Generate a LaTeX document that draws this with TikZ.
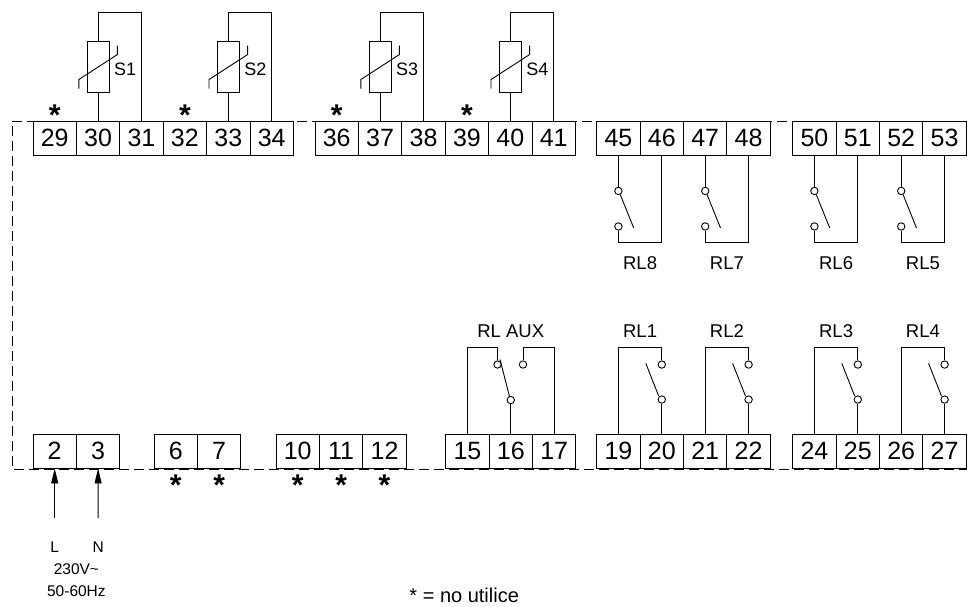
\documentclass[tikz,border=0pt]{standalone}
\usepackage{fontspec}
\setmainfont{Liberation Sans}
\usetikzlibrary{arrows.meta,calc}
\begin{document}
\begin{tikzpicture}[x=1pt,y=-1pt,line width=0.9pt,
 every node/.style={inner sep=0pt},
 term/.style={draw,fill=white,minimum width=43.4pt,minimum height=34pt,font=\fontsize{25}{25}\selectfont},
 sensor/.style={draw,minimum width=22pt,minimum height=51pt},
 contact/.style={draw,fill=white,circle,minimum size=7.4pt},
 slabel/.style={font=\fontsize{18}{18}\selectfont},
 rlabel/.style={font=\fontsize{18.5}{18.5}\selectfont},
 starmark/.style={font=\bfseries\fontsize{30}{30}\selectfont,text height=22pt,text depth=-12.5pt,anchor=center},
 lbl15/.style={font=\fontsize{15.5}{15.5}\selectfont},
 notetext/.style={font=\fontsize{20}{20}\selectfont,anchor=base west},
 dashframe/.style={dash pattern=on 10pt off 5pt},
 power/.style={-{Triangle[length=15pt,width=7pt]}}]
\useasboundingbox (0,0) rectangle (977,607);
% dashed frame
\draw[dashframe] (966.7,121) -- (12,121) -- (12,469) -- (966.7,469);
% top terminals
\foreach \n [count=\i from 0] in {29,30,31,32,33,34} \node[term] (t\n) at (54.7+43.4*\i,138) {\n};
\foreach \n [count=\i from 0] in {36,37,38,39,40,41} \node[term] (t\n) at (336.7+43.4*\i,138) {\n};
\foreach \n [count=\i from 0] in {45,46,47,48} \node[term] (t\n) at (618.4+43.4*\i,138) {\n};
\foreach \n [count=\i from 0] in {50,51,52,53} \node[term] (t\n) at (814.4+43.4*\i,138) {\n};
% bottom terminals
\foreach \n [count=\i from 0] in {2,3} \node[term] (t\n) at (54.7+43.4*\i,451) {\n};
\foreach \n [count=\i from 0] in {6,7} \node[term] (t\n) at (175.7+43.4*\i,451) {\n};
\foreach \n [count=\i from 0] in {10,11,12} \node[term] (t\n) at (297.7+43.4*\i,451) {\n};
\foreach \n [count=\i from 0] in {15,16,17} \node[term] (t\n) at (467.4+43.4*\i,451) {\n};
\foreach \n [count=\i from 0] in {19,20,21,22} \node[term] (t\n) at (618.4+43.4*\i,451) {\n};
\foreach \n [count=\i from 0] in {24,25,26,27} \node[term] (t\n) at (814.4+43.4*\i,451) {\n};
% sensors
\foreach \a/\b/\s in {30/31/1,33/34/2,37/38/3,40/41/4}{
  \path (t\a.north) ++(0,-53.5) node[sensor] (r\s) {};
  \draw (t\a.north) -- (r\s.south);
  \draw (r\s.north) -- ++(0,-28.5) -| (t\b.north);
  \draw ([shift={(-19.3,21.5)}]r\s.center) -- ++(0,-9) -- ++(38.6,-25) -- ++(0,-9);
  \node[slabel] (sl\s) at ([shift={(27,2.5)}]r\s.center) {S\s};
}
% asterisks
\foreach \n in {29,32,36,39} \node[starmark] (st\n) at ([yshift=6pt]t\n.north) {*};
\foreach \n in {6,7,10,11,12} \node[starmark] (st\n) at ([yshift=-16pt]t\n.south) {*};
% top relays
\foreach \a/\b/\r/\lx in {45/46/8/640.1,47/48/7/726.9,50/51/6/836.1,52/53/5/922.9}{
  \path (t\a.south) ++(0,35.5) node[contact] (u\r) {};
  \path (t\a.south) ++(0,71) node[contact] (l\r) {};
  \draw (t\a.south) -- (u\r.north);
  \draw (l\r.south) -- ++(0,12.3) -| (t\b.south);
  \draw ([shift={(1.8,3.5)}]u\r.center) -- ([shift={(15.3,1.5)}]l\r.center);
  \node[rlabel] (lab\r) at (\lx,263.3) {RL\r};
}
% bottom relays
\foreach \a/\b/\r/\lx in {19/20/1/640.1,21/22/2/726.9,24/25/3/836.1,26/27/4/922.9}{
  \path (t\b.north) ++(0,-69) node[contact] (u\r) {};
  \path (t\b.north) ++(0,-34) node[contact] (l\r) {};
  \draw (t\a.north) -- ++(0,-86.5) -| (u\r.north);
  \draw (l\r.south) -- (t\b.north);
  \draw ([shift={(-16,-1.2)}]u\r.center) -- ([shift={(-3.2,-3.7)}]l\r.center);
  \node[rlabel] (lab\r) at (\lx,331) {RL\r};
}
% RL AUX
\node[contact] (ua) at (497.5,364.5) {};
\node[contact] (ub) at (523,364.5) {};
\path (t16.north) ++(0,-33.5) node[contact] (la) {};
\draw (t15.north) -- ++(0,-86.5) -| (ua.north);
\draw (ub.north) -- ++(0,-13.3) -| (t17.north);
\draw (la.south) -- (t16.north);
\draw ([shift={(2.5,-5)}]ua.center) -- ([shift={(-1.3,-3.5)}]la.center);
\node[rlabel] (labaux) at (510.8,331) {RL AUX};
% power supply
\coordinate (pl) at (54.7,518);
\coordinate (pn) at (98.1,518);
\draw[power] (pl) -- (t2.south);
\draw[power] (pn) -- (t3.south);
\node[lbl15] (lL) at (54.7,547) {L};
\node[lbl15] (lN) at (98.1,547) {N};
\node[lbl15] (volt) at (76.4,569) {230V\textasciitilde};
\node[lbl15] (freq) at (76.4,591) {50-60Hz};
% note
\node[notetext] (note) at (409,602) {* = no utilice};
\end{tikzpicture}
\end{document}
